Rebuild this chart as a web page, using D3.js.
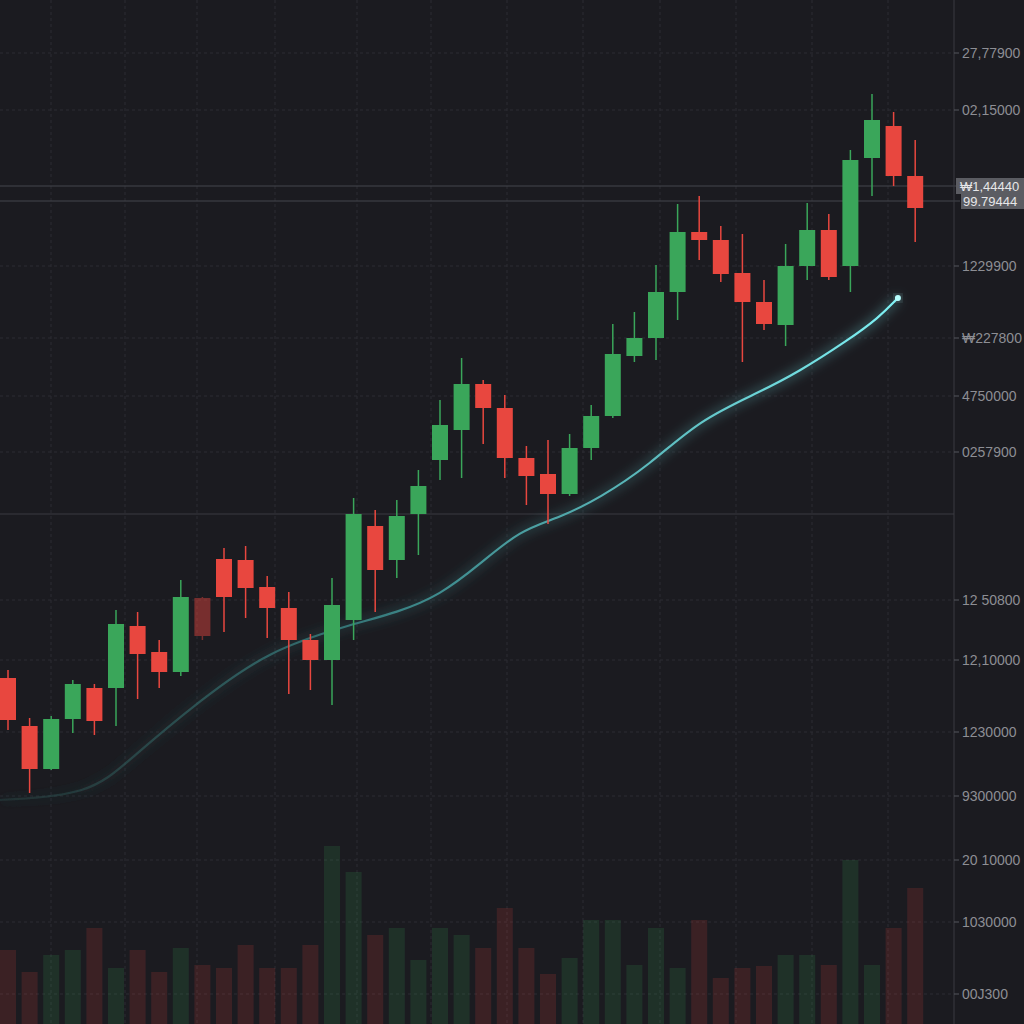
<!DOCTYPE html>
<html>
<head>
<meta charset="utf-8">
<script src="https://cdn.jsdelivr.net/npm/d3@7"></script>
<style>
  body { margin: 0; background: #1b1b20; }
  svg { display: block; }
</style>
</head>
<body>
<svg id="chart" width="1024" height="1024"></svg>
<script>
// Candle data (price units)
const opens  = [346,298,255,305,336,336,398,372,352,426,465,464,437,416,384,364,404,498,464,510,564,594,640,616,566,550,530,576,608,668,686,732,792,784,751,722,699,758,794,758,866,898,848];
const closes = [304,255,305,340,303,400,370,352,427,388,427,436,416,384,364,419,510,454,508,538,599,640,616,566,548,530,576,608,670,686,732,792,784,750,722,700,758,794,747,864,904,848,816];
const highs  = [354,306,308,344,340,414,412,384,444,427,476,478,448,432,390,446,526,514,524,554,624,666,644,629,578,584,590,619,700,712,759,820,828,798,790,744,780,821,810,874,930,912,884];
const lows   = [294,231,254,291,289,298,325,336,348,384,392,406,386,330,334,319,384,412,446,469,544,546,580,546,519,500,528,564,606,662,664,704,764,742,662,694,678,744,744,732,828,838,782];
const fadedCandle = 9;

const volumes = [74,52,69,74,96,56,74,52,76,59,56,79,56,56,79,178,152,89,96,64,96,89,76,116,76,50,66,104,104,59,96,56,104,46,56,58,69,69,59,164,59,96,136];

// Moving average line (x index position, price)
const maIdx   = [-0.4,3.8,5.6,8.9,12.1,15.8,18.1,20.0,21.8,23.7,25.5,27.4,29.7,32.0,34.8,36.6,38.9,40.3,41.2];
const maPrice = [224,229,264,324,374,399,412,429,459,494,506,526,559,604,632,652,684,706,726];

// Right axis labels
const tickLabels = ["27,77900","02,15000","1229900","\u20a9227800","4750000","0257900","12 50800","12,10000","1230000","9300000","20 10000","1030000","00J300"];
const tickPrices = [971,914,758,686,628,572,424,364,292,228,164,102,30];
const priceTags = ["\u20a91,44440","99.79444"];
const tagPrices = [838,823];
const gridX = [51,125,197,275,357,431,507,583,660,736,812,888];
const solidPrice = 510;

const svg = d3.select("#chart");
const W = 1024, H = 1024, axisX = 954;

const x = d3.scaleLinear().domain([0, 1]).range([8, 29.6]);
const y = d3.scaleLinear().domain([0, 1024]).range([H, 0]);
const vy = d3.scaleLinear().domain([0, 200]).range([H, H - 200]);

const UP = "#3aa65a", DOWN = "#e8473f";

svg.append("rect").attr("width", W).attr("height", H).attr("fill", "#1b1b20");

const defs = svg.append("defs");
const grad = defs.append("linearGradient").attr("id", "maGrad")
  .attr("gradientUnits", "userSpaceOnUse")
  .attr("x1", 0).attr("x2", 900).attr("y1", 0).attr("y2", 0);
grad.append("stop").attr("offset", "0%").attr("stop-color", "#2a4a48").attr("stop-opacity", 0.4);
grad.append("stop").attr("offset", "45%").attr("stop-color", "#3a8486");
grad.append("stop").attr("offset", "100%").attr("stop-color", "#7ff3f6");
const glow = defs.append("filter").attr("id", "glow").attr("x", "-20%").attr("y", "-20%").attr("width", "140%").attr("height", "140%");
glow.append("feGaussianBlur").attr("stdDeviation", 6).attr("result", "b");
const merge = glow.append("feMerge");
merge.append("feMergeNode").attr("in", "b");
merge.append("feMergeNode").attr("in", "SourceGraphic");

// grid
svg.append("g").selectAll("line").data(gridX).join("line")
  .attr("x1", d => d).attr("x2", d => d).attr("y1", 0).attr("y2", H)
  .attr("stroke", "#2c2d33").attr("stroke-dasharray", "3,3");
svg.append("g").selectAll("line").data(tickPrices).join("line")
  .attr("x1", 0).attr("x2", axisX).attr("y1", d => y(d)).attr("y2", d => y(d))
  .attr("stroke", "#2c2d33").attr("stroke-dasharray", "3,3");
svg.append("line").attr("x1", 0).attr("x2", axisX).attr("y1", y(solidPrice)).attr("y2", y(solidPrice))
  .attr("stroke", "#3a3b41");
svg.selectAll(".tagline").data(tagPrices).join("line")
  .attr("x1", 0).attr("x2", axisX + 6).attr("y1", d => y(d)).attr("y2", d => y(d))
  .attr("stroke", "#45464c").attr("stroke-width", 1);

// volume
const candles = d3.range(opens.length);
svg.append("g").selectAll("rect").data(candles).join("rect")
  .attr("x", i => x(i) - 8).attr("width", 16)
  .attr("y", i => vy(volumes[i])).attr("height", i => H - vy(volumes[i]))
  .attr("fill", i => closes[i] >= opens[i] ? UP : DOWN).attr("opacity", 0.16);

// moving average
const line = d3.line().x(d => x(d[0])).y(d => y(d[1])).curve(d3.curveBasis);
const maPts = maIdx.map((d, i) => [d, maPrice[i]]);
svg.append("path").attr("d", line(maPts)).attr("fill", "none")
  .attr("stroke", "url(#maGrad)").attr("stroke-width", 2.2).attr("filter", "url(#glow)");
svg.append("circle").attr("cx", x(maIdx[maIdx.length - 1])).attr("cy", y(maPrice[maPrice.length - 1]))
  .attr("r", 3).attr("fill", "#b8ffff").attr("filter", "url(#glow)");

// candles
const cg = svg.append("g").selectAll("g").data(candles).join("g")
  .attr("opacity", i => i === fadedCandle ? 0.45 : 1);
cg.append("line")
  .attr("x1", i => x(i)).attr("x2", i => x(i))
  .attr("y1", i => y(highs[i])).attr("y2", i => y(lows[i]))
  .attr("stroke", i => closes[i] >= opens[i] ? UP : DOWN).attr("stroke-width", 1.5);
cg.append("rect")
  .attr("x", i => x(i) - 8).attr("width", 16)
  .attr("y", i => y(Math.max(opens[i], closes[i])))
  .attr("height", i => Math.max(2, Math.abs(y(opens[i]) - y(closes[i]))))
  .attr("fill", i => closes[i] >= opens[i] ? UP : DOWN);

// right axis
svg.append("line").attr("x1", axisX).attr("x2", axisX).attr("y1", 0).attr("y2", H).attr("stroke", "#3a3b41");
const ax = svg.append("g").selectAll("g").data(tickPrices).join("g")
  .attr("transform", d => `translate(${axisX},${y(d)})`);
ax.append("line").attr("x2", 5).attr("stroke", "#55565c");
ax.append("text").attr("x", 8).attr("dy", "0.35em")
  .attr("fill", "#8d8e94").attr("font-family", "Liberation Sans, sans-serif").attr("font-size", 14)
  .text((d, i) => tickLabels[i]);

const tags = svg.append("g").selectAll("g").data(tagPrices).join("g")
  .attr("transform", d => `translate(${axisX + 2},${y(d)})`);
tags.append("rect").attr("x", (d, i) => i === 0 ? 0 : 5).attr("y", -8).attr("width", 70).attr("height", 16)
  .attr("fill", "#5b5c62");
tags.append("text").attr("x", (d, i) => i === 0 ? 4 : 7).attr("dy", "0.35em")
  .attr("fill", "#e6e6e8").attr("font-family", "Liberation Sans, sans-serif").attr("font-size", 13)
  .text((d, i) => priceTags[i]);
</script>
</body>
</html>
